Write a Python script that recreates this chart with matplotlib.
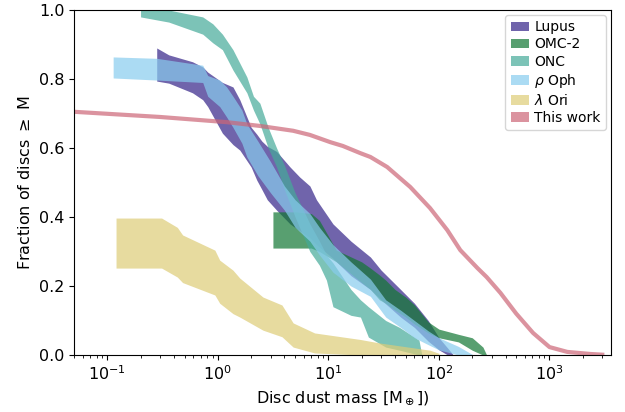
#!/usr/bin/env python

import matplotlib
matplotlib.use('Agg')
import matplotlib.pyplot as plt
from matplotlib.patches import Patch

# cumulative disc mass distributions: mass [M_earth], lower / upper fraction
lupusMass = [0.28, 0.36, 0.59, 0.73, 0.81, 1.1, 1.37, 1.58, 2.0, 2.25, 2.5, 2.8, 3.4,
             4.5, 5.5, 6.8, 7.8, 11, 16, 24, 30, 45, 60, 80, 100, 120, 135]
lupusHi = [0.89, 0.87, 0.85, 0.835, 0.82, 0.79, 0.777, 0.74, 0.66, 0.64, 0.62, 0.605, 0.59,
           0.545, 0.516, 0.49, 0.45, 0.38, 0.33, 0.284, 0.246, 0.19, 0.15, 0.10, 0.05, 0.02, 0.0]
lupusLo = [0.794, 0.788, 0.76, 0.74, 0.72, 0.643, 0.61, 0.594, 0.545, 0.507, 0.48, 0.45, 0.42,
           0.38, 0.36, 0.34, 0.32, 0.28, 0.23, 0.19, 0.16, 0.11, 0.08, 0.04, 0.015, 0.0, 0.0]

omcMass = [3.15, 5.0, 7.0, 8.3, 11.8, 20, 24, 29, 33, 40, 50, 60, 80, 100, 150, 200, 250, 270]
omcHi = [0.415, 0.415, 0.41, 0.39, 0.304, 0.27, 0.252, 0.232, 0.217, 0.19, 0.168, 0.145,
         0.096, 0.075, 0.06, 0.05, 0.023, 0.0]
omcLo = [0.31, 0.31, 0.31, 0.30, 0.27, 0.21, 0.19, 0.16, 0.15, 0.13, 0.11, 0.09,
         0.064, 0.05, 0.038, 0.014, 0.0, 0.0]

oncMass = [0.2, 0.36, 0.73, 0.9, 1.1, 1.37, 1.83, 2.1, 2.4, 2.85, 3.4, 4.0, 5.0, 6.8,
           8.3, 9.6, 11, 16, 19.5, 23, 33, 44, 66, 70]
oncHi = [1.0, 1.0, 0.98, 0.96, 0.93, 0.885, 0.806, 0.75, 0.73, 0.66, 0.60, 0.55, 0.47, 0.38,
         0.33, 0.29, 0.267, 0.19, 0.16, 0.14, 0.10, 0.08, 0.043, 0.0]
oncLo = [0.98, 0.965, 0.93, 0.905, 0.885, 0.826, 0.76, 0.71, 0.67, 0.60, 0.545, 0.48, 0.40, 0.30,
         0.26, 0.217, 0.14, 0.115, 0.11, 0.052, 0.023, 0.014, 0.0, 0.0]

ophMass = [0.113, 0.28, 0.73, 0.81, 1.04, 1.2, 1.37, 1.65, 1.83, 2.3, 3.0, 4.0, 5.0, 6.8,
           8.3, 11, 16, 24, 33, 45, 60, 80, 100, 150, 205]
ophHi = [0.864, 0.86, 0.84, 0.81, 0.797, 0.777, 0.75, 0.71, 0.67, 0.62, 0.56, 0.49, 0.45, 0.41,
         0.37, 0.32, 0.27, 0.22, 0.16, 0.13, 0.10, 0.07, 0.05, 0.025, 0.0]
ophLo = [0.803, 0.797, 0.79, 0.75, 0.72, 0.69, 0.66, 0.614, 0.574, 0.52, 0.47, 0.42, 0.37, 0.33,
         0.29, 0.24, 0.20, 0.17, 0.11, 0.08, 0.05, 0.03, 0.015, 0.0, 0.0]

oriMass = [0.12, 0.31, 0.43, 0.48, 0.94, 1.04, 1.37, 1.58, 2.56, 3.8, 4.8, 7.5, 19.5, 29, 83, 100]
oriHi = [0.397, 0.397, 0.37, 0.348, 0.304, 0.275, 0.246, 0.223, 0.168, 0.145, 0.093, 0.064,
         0.045, 0.035, 0.014, 0.005]
oriLo = [0.252, 0.252, 0.226, 0.21, 0.174, 0.15, 0.12, 0.11, 0.072, 0.053, 0.023, 0.006,
         0.0, 0.0, 0.0, 0.0]

# this work (model)
modelMass = [0.05, 0.3, 1.2, 2.4, 4.8, 6.8, 10.4, 13.5, 19.5, 24, 34, 55, 83, 119, 156,
             223, 270, 360, 500, 710, 1000, 1450, 2350, 3000]
modelFrac = [0.705, 0.69, 0.675, 0.664, 0.65, 0.638, 0.617, 0.606, 0.585, 0.574, 0.545,
             0.487, 0.426, 0.362, 0.304, 0.252, 0.226, 0.18, 0.12, 0.064, 0.023, 0.009,
             0.003, 0.001]


def main():

    fig = plt.figure(figsize=(6.25, 4.12), dpi=100)
    ax = fig.add_axes([0.1184, 0.1383, 0.8592, 0.8374])

    bands = [(lupusMass, lupusLo, lupusHi, '#332288', 'Lupus'),
             (omcMass, omcLo, omcHi, '#117733', 'OMC-2'),
             (oncMass, oncLo, oncHi, '#44AA99', 'ONC'),
             (ophMass, ophLo, ophHi, '#88CCEE', r'$\rho$ Oph'),
             (oriMass, oriLo, oriHi, '#DDCC77', r'$\lambda$ Ori')]

    for mass, lo, hi, col, name in bands:
        ax.fill_between(mass, lo, hi, color=col, alpha=0.7, lw=0, label=name)

    ax.plot(modelMass, modelFrac, color='#CC6677', alpha=0.7, lw=3, label='This work')

    ax.set_xscale('log')
    ax.set_xlim(0.05, 3600)
    ax.set_ylim(0, 1)
    ax.set_xlabel(r'Disc dust mass [M$_\oplus$])', fontsize=11.5)
    ax.set_ylabel(r'Fraction of discs $\geq$ M', fontsize=11.5)
    ax.tick_params(labelsize=11.5)

    # legend uses square patches for every entry
    handles = [Patch(color=b[3], alpha=0.7, lw=0) for b in bands]
    handles.append(Patch(color='#CC6677', alpha=0.7, lw=0))
    labels = [b[4] for b in bands] + ['This work']
    ax.legend(handles, labels, loc='upper right', fontsize=10, labelspacing=0.22,
              handlelength=1.3, handletextpad=0.4, borderaxespad=0.35)

    plt.savefig('out.png', dpi=100)

# END main()


if __name__ == '__main__':
    main()
